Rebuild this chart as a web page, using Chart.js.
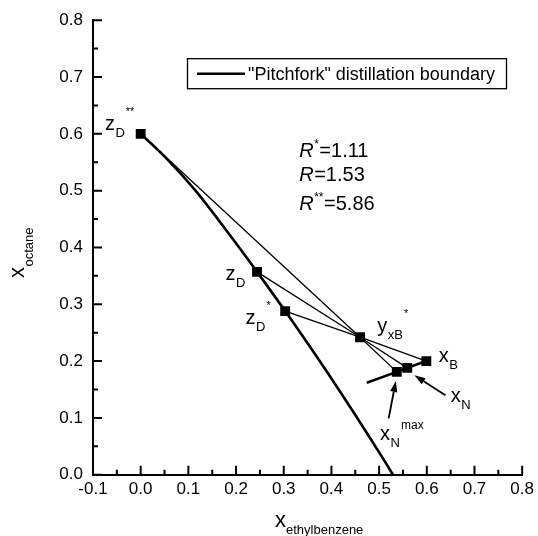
<!DOCTYPE html>
<html>
<head>
<meta charset="utf-8">
<script src="https://cdn.jsdelivr.net/npm/chart.js@4.4.0/dist/chart.umd.min.js"></script>
<style>
  body { margin: 0; background: #fff; }
  #wrap { width: 538px; height: 536px; }
</style>
</head>
<body>
<div id="wrap"><canvas id="chart"></canvas></div>
<script>
const FONT = '"Liberation Sans", Arial, sans-serif';

// axis ticks
const xMajorTicks = [-0.1, 0.0, 0.1, 0.2, 0.3, 0.4, 0.5, 0.6, 0.7, 0.8];
const xMinorTicks = [-0.05, 0.05, 0.15, 0.25, 0.35, 0.45, 0.55, 0.65, 0.75];
const yMajorTicks = [0.0, 0.1, 0.2, 0.3, 0.4, 0.5, 0.6, 0.7, 0.8];
const yMinorTicks = [0.05, 0.15, 0.25, 0.35, 0.45, 0.55, 0.65, 0.75];

// "pitchfork" distillation boundary
const boundaryX = [0.0, 0.055, 0.115, 0.185, 0.244, 0.303, 0.393, 0.507, 0.529];
const boundaryY = [0.6, 0.556, 0.50, 0.424, 0.357, 0.288, 0.178, 0.030, 0.0];

// composition points: zD**, zD, zD*, yxB*, xB, xN, xNmax
const pointX = [0.0, 0.244, 0.303, 0.46, 0.599, 0.559, 0.537];
const pointY = [0.6, 0.357, 0.288, 0.242, 0.2, 0.188, 0.181];

// thin lines between points (indices into the point arrays)
const tieFrom = [0, 1, 2, 3, 3, 3];
const tieTo   = [3, 3, 3, 4, 5, 6];

// thick line through the xN points
const nLineX = [0.474, 0.537, 0.559, 0.599];
const nLineY = [0.162, 0.181, 0.188, 0.2];

// point labels: anchor (left, baseline) in data units
const labels = [
  { x: -0.075, y: 0.606, main: 'z', sub: 'D', sup: '**' },
  { x: 0.178, y: 0.343, main: 'z', sub: 'D', sup: '' },
  { x: 0.220, y: 0.266, main: 'z', sub: 'D', sup: '*' },
  { x: 0.496, y: 0.251, main: 'y', sub: 'xB', sup: '*' },
  { x: 0.625, y: 0.198, main: 'x', sub: 'B', sup: '' },
  { x: 0.650, y: 0.128, main: 'x', sub: 'N', sup: '' },
  { x: 0.502, y: 0.061, main: 'x', sub: 'N', sup: 'max' }
];

// arrows: tail -> head
const arrows = [
  { x1: 0.520, y1: 0.099, x2: 0.535, y2: 0.165 },
  { x1: 0.639, y1: 0.140, x2: 0.574, y2: 0.175 }
];

// reflux ratios
const refluxNames = ['*', '', '**'];
const refluxValues = ['1.11', '1.53', '5.86'];
const refluxY = [0.559, 0.517, 0.466];

const toXY = (xs, ys) => xs.map((x, i) => ({ x: x, y: ys[i] }));

const datasets = [{
  label: '"Pitchfork" distillation boundary',
  data: toXY(boundaryX, boundaryY),
  showLine: true,
  borderColor: '#000',
  borderWidth: 2.6,
  pointRadius: 0,
  cubicInterpolationMode: 'monotone'
}];
tieFrom.forEach((a, i) => {
  const b = tieTo[i];
  datasets.push({
    data: [{ x: pointX[a], y: pointY[a] }, { x: pointX[b], y: pointY[b] }],
    showLine: true,
    borderColor: '#000',
    borderWidth: 1.3,
    pointRadius: 0
  });
});
datasets.push({
  data: toXY(nLineX, nLineY),
  showLine: true,
  borderColor: '#000',
  borderWidth: 2.6,
  pointRadius: 0
});
datasets.push({
  data: toXY(pointX, pointY),
  showLine: false,
  pointStyle: 'rect',
  pointRadius: 7,
  backgroundColor: '#000',
  borderColor: '#000',
  borderWidth: 0
});

function drawLabel(ctx, px, py, l) {
  ctx.fillStyle = '#000';
  ctx.textBaseline = 'alphabetic';
  ctx.textAlign = 'left';
  ctx.font = '20px ' + FONT;
  ctx.fillText(l.main, px, py);
  let cx = px + ctx.measureText(l.main).width + 0.5;
  ctx.font = '13px ' + FONT;
  ctx.fillText(l.sub, cx, py + 7);
  cx += ctx.measureText(l.sub).width + 1;
  if (l.sup) {
    ctx.font = (l.sup === 'max' ? '12px ' : '11px ') + FONT;
    ctx.fillText(l.sup, cx, py - (l.sup === 'max' ? 11 : 15));
  }
}

const annotate = {
  id: 'annotate',
  afterDraw(chart) {
    const ctx = chart.ctx;
    const xs = chart.scales.x, ys = chart.scales.y;
    const area = chart.chartArea;
    ctx.save();

    // inward ticks
    ctx.strokeStyle = '#000';
    ctx.lineWidth = 2;
    ctx.beginPath();
    xMajorTicks.forEach(v => { const p = xs.getPixelForValue(v); ctx.moveTo(p, area.bottom); ctx.lineTo(p, area.bottom - 9); });
    xMinorTicks.forEach(v => { const p = xs.getPixelForValue(v); ctx.moveTo(p, area.bottom); ctx.lineTo(p, area.bottom - 5); });
    yMajorTicks.forEach(v => { const p = ys.getPixelForValue(v); ctx.moveTo(area.left, p); ctx.lineTo(area.left + 9, p); });
    yMinorTicks.forEach(v => { const p = ys.getPixelForValue(v); ctx.moveTo(area.left, p); ctx.lineTo(area.left + 5, p); });
    ctx.stroke();

    // point labels
    labels.forEach(l => drawLabel(ctx, xs.getPixelForValue(l.x), ys.getPixelForValue(l.y), l));

    // arrows
    ctx.lineWidth = 1.8;
    ctx.fillStyle = '#000';
    arrows.forEach(a => {
      const x1 = xs.getPixelForValue(a.x1), y1 = ys.getPixelForValue(a.y1);
      const x2 = xs.getPixelForValue(a.x2), y2 = ys.getPixelForValue(a.y2);
      const ang = Math.atan2(y2 - y1, x2 - x1);
      const len = 11, half = 3.6;
      const bx = x2 - len * Math.cos(ang), by = y2 - len * Math.sin(ang);
      ctx.beginPath();
      ctx.moveTo(x1, y1);
      ctx.lineTo(bx, by);
      ctx.stroke();
      ctx.beginPath();
      ctx.moveTo(x2, y2);
      ctx.lineTo(bx + half * Math.sin(ang), by - half * Math.cos(ang));
      ctx.lineTo(bx - half * Math.sin(ang), by + half * Math.cos(ang));
      ctx.closePath();
      ctx.fill();
    });

    // reflux ratios
    const rx = xs.getPixelForValue(0.3325);
    refluxValues.forEach((val, i) => {
      const py = ys.getPixelForValue(refluxY[i]);
      ctx.font = 'italic 20px ' + FONT;
      ctx.fillText('R', rx, py);
      let cx = rx + ctx.measureText('R').width + 0.5;
      if (refluxNames[i]) {
        ctx.font = '12px ' + FONT;
        ctx.fillText(refluxNames[i], cx, py - 9);
        cx += ctx.measureText(refluxNames[i]).width + 0.5;
      }
      ctx.font = '20px ' + FONT;
      ctx.fillText('=' + val, cx, py);
    });

    // legend
    const lx = area.left + 94, ly = area.top + 38;
    ctx.lineWidth = 1.3;
    ctx.strokeRect(lx + 0.5, ly + 0.5, 319, 30);
    ctx.lineWidth = 2.6;
    ctx.beginPath();
    ctx.moveTo(lx + 10, ly + 15.5);
    ctx.lineTo(lx + 58, ly + 15.5);
    ctx.stroke();
    ctx.font = '18px ' + FONT;
    ctx.fillText(chart.data.datasets[0].label, lx + 61, ly + 21.5);

    // axis titles
    ctx.font = '22px ' + FONT;
    ctx.fillText('x', 275, 527);
    ctx.font = '13px ' + FONT;
    ctx.fillText('ethylbenzene', 286, 534);

    ctx.translate(23.5, 278);
    ctx.rotate(-Math.PI / 2);
    ctx.font = '22px ' + FONT;
    ctx.fillText('x', 0, 0);
    ctx.font = '13px ' + FONT;
    ctx.fillText('octane', 11.5, 9.5);

    ctx.restore();
  }
};

new Chart(document.getElementById('chart'), {
  type: 'scatter',
  data: { datasets: datasets },
  options: {
    responsive: true,
    maintainAspectRatio: false,
    animation: false,
    layout: { padding: { top: 19, right: 12, left: 0, bottom: 0 } },
    plugins: { legend: { display: false }, tooltip: { enabled: false } },
    scales: {
      x: {
        type: 'linear',
        min: -0.1,
        max: 0.8,
        afterFit: s => { s.height = 61.3; },
        afterBuildTicks: s => { s.ticks = xMajorTicks.map(v => ({ value: v })); },
        grid: { display: false, drawTicks: false },
        border: { display: true, color: '#000', width: 2 },
        ticks: {
          color: '#000',
          padding: 4,
          font: { family: FONT, size: 17 },
          callback: v => v.toFixed(1)
        }
      },
      y: {
        type: 'linear',
        min: 0,
        max: 0.8,
        afterFit: s => { s.width = 93; },
        afterBuildTicks: s => { s.ticks = yMajorTicks.map(v => ({ value: v })); },
        grid: { display: false, drawTicks: false },
        border: { display: true, color: '#000', width: 2 },
        ticks: {
          color: '#000',
          padding: 10,
          font: { family: FONT, size: 17 },
          callback: v => v.toFixed(1)
        }
      }
    }
  },
  plugins: [annotate]
});
</script>
</body>
</html>
